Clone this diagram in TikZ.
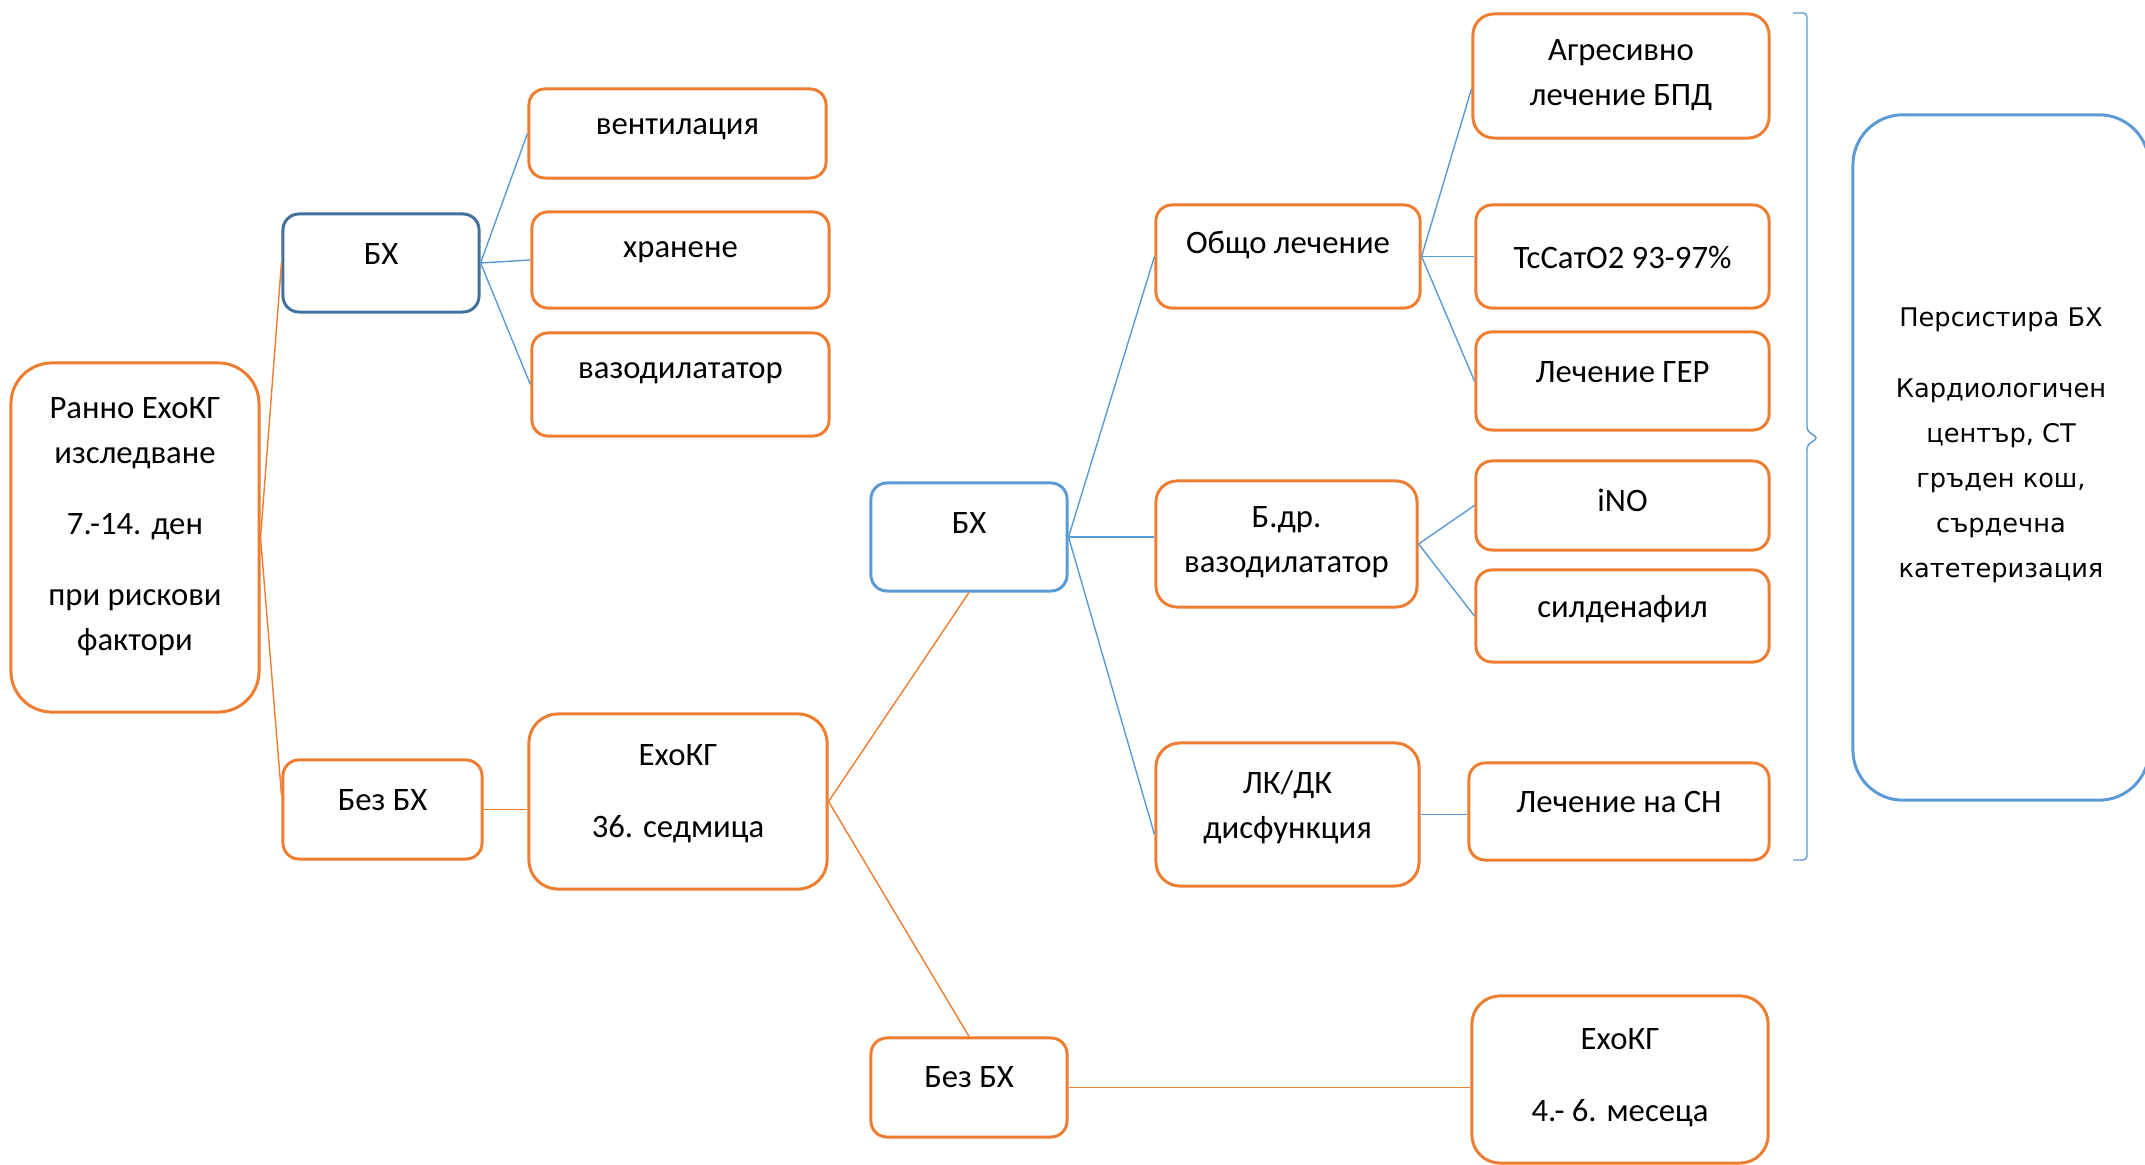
\documentclass[tikz,border=0pt]{standalone}
\usepackage{fontspec}
\setmainfont{Carlito}
\newfontfamily\persfont{DejaVu Sans}
\usetikzlibrary{positioning}
\definecolor{orng}{HTML}{ED7D31}
\definecolor{lblue}{HTML}{5B9BD5}
\definecolor{dblue}{HTML}{41719C}

\begin{document}
\begin{tikzpicture}[
        x=0.01cm, y=-0.01cm,
        every node/.style={align=center, inner sep=0pt},
        box/.style={draw=orng, line width=0.85pt, rounded corners=#1},
        box/.default=0.16cm,
        txt/.style={anchor=center, yshift=-#1, font=\fontsize{9.3}{12.8}\selectfont},
        txt/.default=0.42cm,
        oline/.style={orng, line width=0.4pt},
        bline/.style={lblue, line width=0.4pt},
    ]
    \useasboundingbox (0,0) rectangle (2145,1165);
    % Nodes
    \node (root) [box=0.41cm, minimum width=2.48cm, minimum height=3.49cm,
        label={[txt=1.65cm]north:Ранно ЕхоКГ\\изследване\\[0.26cm]7.-14. ден\\[0.26cm]при рискови\\фактори}] at (135,537.5) {};
    \node (bx1) [box, draw=dblue, minimum width=1.96cm, minimum height=0.98cm, label={[txt]north:БХ}] at (381,263) {};
    \node (vent) [box, minimum width=2.97cm, minimum height=0.89cm, label={[txt=0.42cm]north:вентилация}] at (677.5,133.5) {};
    \node (hran) [box, minimum width=2.97cm, minimum height=0.96cm, label={[txt=0.42cm]north:хранене}] at (680.5,260) {};
    \node (vazo) [box, minimum width=2.97cm, minimum height=1.03cm, label={[txt]north:вазодилататор}] at (680.5,384.5) {};
    \node (bbx1) [box, minimum width=1.99cm, minimum height=0.99cm, label={[txt]north:Без БХ}] at (382.5,809.5) {};
    \node (eh36) [box=0.29cm, minimum width=2.98cm, minimum height=1.75cm,
        label={[txt=0.81cm]north:ЕхоКГ\\[0.27cm]36. седмица}] at (678,801.5) {};
    \node (bx2) [box, draw=lblue, minimum width=1.96cm, minimum height=1.08cm, label={[txt=0.42cm]north:БХ}] at (969,537) {};
    \node (bbx2) [box, minimum width=1.96cm, minimum height=0.99cm, label={[txt=0.41cm]north:Без БХ}] at (969,1087.5) {};
    \node (obsh) [box, minimum width=2.64cm, minimum height=1.03cm, label={[txt]north:Общо лечение}] at (1288,256.5) {};
    \node (bdr) [box=0.21cm, minimum width=2.61cm, minimum height=1.26cm,
        label={[txt=0.63cm]north:Б.др.\\вазодилататор}] at (1286.5,544) {};
    \node (lkdk) [box=0.24cm, minimum width=2.63cm, minimum height=1.43cm,
        label={[txt=0.66cm]north:ЛК/ДК\\дисфункция}] at (1287.5,814.5) {};
    \node (agr) [box=0.21cm, minimum width=2.96cm, minimum height=1.24cm,
        label={[txt=0.63cm]north:Агресивно\\лечение БПД}] at (1621,76) {};
    \node (tcs) [box, minimum width=2.93cm, minimum height=1.03cm, label={[txt=0.54cm]north:TcСатО2 93-97\%}] at (1622.5,256.5) {};
    \node (ger) [box, minimum width=2.93cm, minimum height=0.98cm, label={[txt]north:Лечение ГЕР}] at (1622.5,381) {};
    \node (ino) [box, minimum width=2.93cm, minimum height=0.89cm, label={[txt=0.41cm]north:iNO}] at (1622.5,505.5) {};
    \node (sild) [box, minimum width=2.93cm, minimum height=0.92cm, label={[txt=0.41cm]north:силденафил}] at (1622.5,616) {};
    \node (sn) [box, minimum width=3.00cm, minimum height=0.97cm, label={[txt=0.41cm]north:Лечение на СН}] at (1619,811.5) {};
    \node (eh46) [box=0.28cm, minimum width=2.96cm, minimum height=1.67cm,
        label={[txt=0.83cm]north:ЕхоКГ\\[0.27cm]4.- 6. месеца}] at (1620,1079.5) {};
    \node (pers) [box=0.5cm, draw=lblue, minimum width=2.96cm, minimum height=6.85cm,
        label={[txt=3.32cm, font=\persfont\fontsize{7.3}{12.8}\selectfont]north:Персистира БХ\\[0.26cm]Кардиологичен\\център, СТ\\гръден кош,\\сърдечна\\катетеризация}] at (2001,457.5) {};
    % Brace
    \draw[bline, rounded corners=0.04cm] (1793,13) -- (1807,13) -- (1807,431) -- (1818,438)
        -- (1807,445) -- (1807,860) -- (1793,860);
    % Connectors
    \draw[oline] (root.east) -- (bx1.west);
    \draw[oline] (root.east) -- ([yshift=0.15cm]bbx1.west);
    \draw[oline] (bbx1.east) -- (bbx1.east -| eh36.west);
    \draw[oline] (eh36.east) -- (bx2.south);
    \draw[oline] (eh36.east) -- (bbx2.north);
    \draw[oline] (bbx2.east) -- (bbx2.east -| eh46.west);
    \draw[bline] (bx1.east) -- (vent.west);
    \draw[bline] (bx1.east) -- (hran.west);
    \draw[bline] (bx1.east) -- (vazo.west);
    \draw[bline] (bx2.east) -- (obsh.west);
    \draw[bline] (bx2.east) -- (bx2.east -| bdr.west);
    \draw[bline] (bx2.east) -- ([yshift=-0.2cm]lkdk.west);
    \draw[bline] (obsh.east) -- ([yshift=-0.13cm]agr.west);
    \draw[bline] (obsh.east) -- (tcs.west);
    \draw[bline] (obsh.east) -- (ger.west);
    \draw[bline] (bdr.east) -- (ino.west);
    \draw[bline] (bdr.east) -- (sild.west);
    \draw[bline] (lkdk.east) -- (lkdk.east -| sn.west);
\end{tikzpicture}
\end{document}
